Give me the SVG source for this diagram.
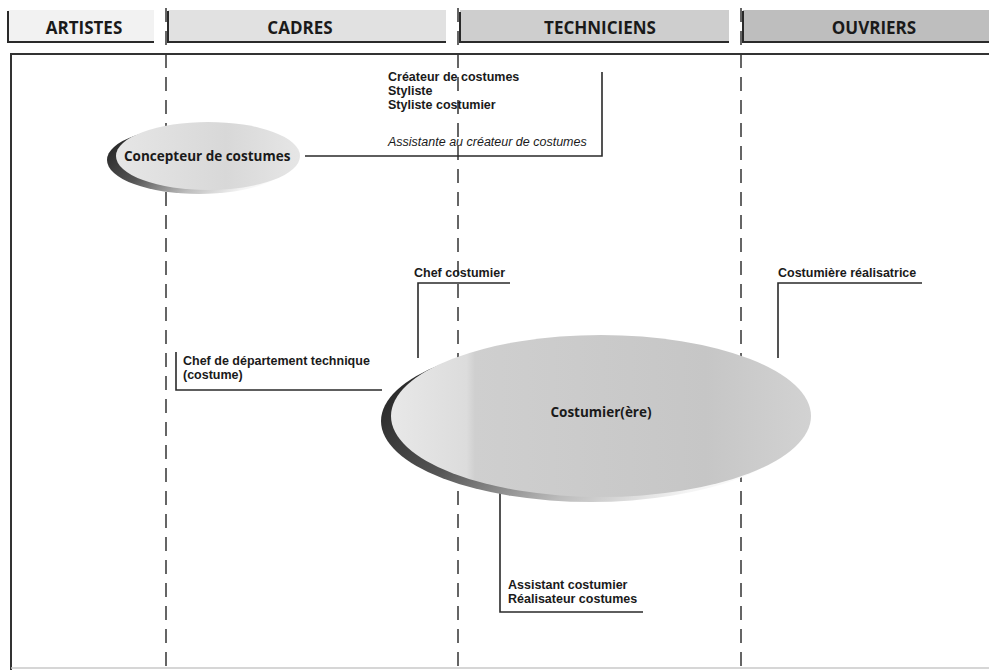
<svg xmlns="http://www.w3.org/2000/svg" width="989" height="670" viewBox="0 0 989 670">
  <style>
    .hdr { font-family: "Open Sans", "Noto Sans", sans-serif; font-weight: 700; font-size: 17px; fill: #1a1a1a; text-anchor: middle; }
    .lbl { font-family: "Liberation Sans", Arial, sans-serif; font-weight: 700; font-size: 12.5px; fill: #1a1a1a; }
    .it { font-style: italic; font-weight: 400; }
    .node { font-family: "Open Sans", "Noto Sans", sans-serif; font-weight: 700; font-size: 13.5px; fill: #1a1a1a; }
    .bracket { fill: none; stroke: #2a2a2a; stroke-width: 2; }
    .lane { fill: none; stroke: #333; stroke-width: 1.5; stroke-dasharray: 14 9; }
    .conn { fill: none; stroke: #2a2a2a; stroke-width: 1.6; }
  </style>
  <defs>
    <linearGradient id="shadowGrad" x1="0" y1="0.3" x2="1" y2="0.7">
      <stop offset="0" stop-color="#262626"/>
      <stop offset="0.3" stop-color="#555555"/>
      <stop offset="0.6" stop-color="#bcbcbc"/>
      <stop offset="0.85" stop-color="#f4f4f4"/>
      <stop offset="1" stop-color="#ffffff"/>
    </linearGradient>
    <linearGradient id="smallFill" x1="0" y1="0" x2="1" y2="0">
      <stop offset="0" stop-color="#e6e6e6"/>
      <stop offset="0.6" stop-color="#d8d8d8"/>
      <stop offset="1" stop-color="#e6e6e6"/>
    </linearGradient>
    <linearGradient id="bigFill" x1="0" y1="0" x2="1" y2="0">
      <stop offset="0" stop-color="#e8e8e8"/>
      <stop offset="0.18" stop-color="#dcdcdc"/>
      <stop offset="0.2" stop-color="#cfcfcf"/>
      <stop offset="0.75" stop-color="#c6c6c6"/>
      <stop offset="1" stop-color="#d2d2d2"/>
    </linearGradient>
  </defs>

  <rect width="989" height="670" fill="#ffffff"/>

  <!-- column headers -->
  <g id="header-artistes">
    <rect x="8" y="10" width="146" height="32" fill="#f2f2f2"/>
    <path class="bracket" d="M8,11 V42 H154"/>
    <text class="hdr" x="84" y="34">ARTISTES</text>
  </g>
  <g id="header-cadres">
    <rect x="168" y="10" width="278" height="32" fill="#e1e1e1"/>
    <path class="bracket" d="M168,11 V42 H446"/>
    <text class="hdr" x="300" y="34">CADRES</text>
  </g>
  <g id="header-techniciens">
    <rect x="460" y="10" width="269" height="32" fill="#cecece"/>
    <path class="bracket" d="M460,12 V42 H729"/>
    <text class="hdr" x="600" y="34">TECHNICIENS</text>
  </g>
  <g id="header-ouvriers">
    <rect x="743" y="10" width="246" height="32" fill="#bebebe"/>
    <path class="bracket" d="M743,11 V42 H989"/>
    <text class="hdr" x="874" y="34">OUVRIERS</text>
  </g>

  <!-- frame and column separators -->
  <g id="frame">
    <path d="M11,670 V54 H989" fill="none" stroke="#333" stroke-width="2"/>
    <line x1="11" y1="668" x2="989" y2="668" stroke="#c8c8c8" stroke-width="1.5"/>
    <line class="lane" x1="166" y1="8" x2="166" y2="670"/>
    <line class="lane" x1="458" y1="8" x2="458" y2="670"/>
    <line class="lane" x1="741" y1="8" x2="741" y2="670"/>
  </g>

  <!-- connectors -->
  <g id="connectors">
    <path class="conn" d="M305,156 H602 V72"/>
    <path class="conn" d="M418,358 V283 H510"/>
    <path class="conn" d="M778,358 V283 H922"/>
    <path class="conn" d="M176,352 V390 H382"/>
    <path class="conn" d="M500,492 V612 H643"/>
  </g>

  <!-- role nodes: a dark crescent shadow under a lighter ellipse -->
  <g id="node-concepteur">
    <ellipse cx="199" cy="160" rx="92" ry="34" fill="url(#shadowGrad)"/>
    <ellipse cx="208" cy="156" rx="92" ry="34" fill="url(#smallFill)"/>
    <text class="node" x="124" y="161">Concepteur de costumes</text>
  </g>
  <g id="node-costumier">
    <ellipse cx="591" cy="421" rx="210" ry="81" fill="url(#shadowGrad)"/>
    <ellipse cx="601" cy="416" rx="210" ry="81" fill="url(#bigFill)"/>
    <text class="node" x="601" y="417" text-anchor="middle">Costumier(ère)</text>
  </g>

  <g id="label-createur">
    <text class="lbl" x="388" y="81">Créateur de costumes</text>
    <text class="lbl" x="388" y="95">Styliste</text>
    <text class="lbl" x="388" y="109">Styliste costumier</text>
    <text class="lbl it" x="388" y="146">Assistante au créateur de costumes</text>
  </g>
  <g id="label-chef-costumier">
    <text class="lbl" x="414" y="277">Chef costumier</text>
  </g>
  <g id="label-realisatrice">
    <text class="lbl" x="778" y="277">Costumière réalisatrice</text>
  </g>
  <g id="label-chef-departement">
    <text class="lbl" x="183" y="365">Chef de département technique</text>
    <text class="lbl" x="183" y="379">(costume)</text>
  </g>
  <g id="label-assistant">
    <text class="lbl" x="508" y="589">Assistant costumier</text>
    <text class="lbl" x="508" y="603">Réalisateur costumes</text>
  </g>
</svg>
